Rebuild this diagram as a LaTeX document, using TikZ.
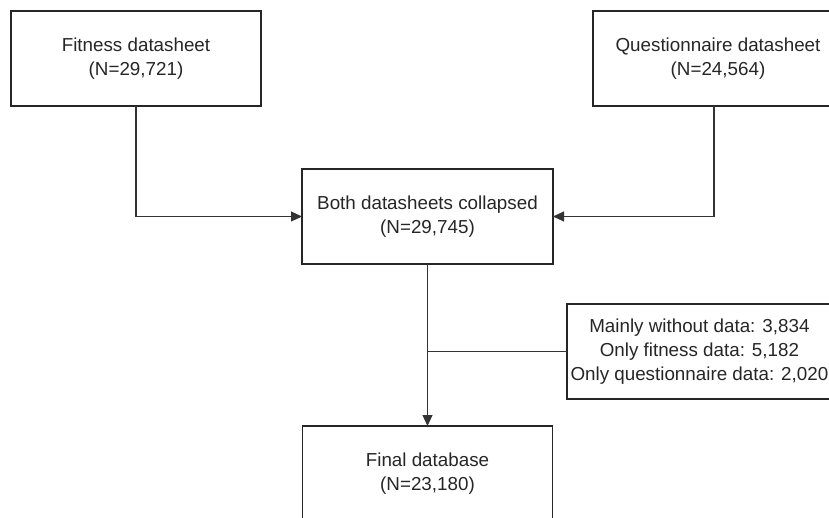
\documentclass[tikz,border=0pt]{standalone}
\usepackage{fontspec}
\setmainfont{Liberation Sans}
\usepackage{tikz}
\usetikzlibrary{arrows.meta, positioning}

\begin{document}
\begin{tikzpicture}[x=1pt,y=1pt,node distance=14pt,
	>={Triangle[length=11pt,width=10pt]},line width=1.1pt,
	font=\fontsize{18.8}{24}\selectfont]

	\tikzset{data box/.style={draw=black!85, text=black!85,
			align=center, outer sep=0pt, inner xsep=3.5pt,
			minimum width=250pt, minimum height=95pt}}
	\tikzset{link/.style={draw=black!80}}

	\useasboundingbox (0,0) rectangle (829,517);

	% sources
	\node[data box] (fit) at (136,458.5) {Fitness datasheet\\(N=29,721)};
	\node[data box, right=332pt of fit] (quest) {Questionnaire datasheet\\(N=24,564)};

	% merge and result
	\node[data box, minimum width=251pt] (both) at (427.5,300.5) {Both datasheets collapsed\\(N=29,745)};
	\node[data box, below=162pt of both] (final) {Final database\\(N=23,180)};
	\node[data box, minimum width=0pt, anchor=west] (excl) at (567,165.5)
		{Mainly without data: 3,834\\Only fitness data: 5,182\\Only questionnaire data: 2,020};

	\coordinate (split) at (both.south |- excl.west);

	\draw[link,->] (fit.south) |- (both.west);
	\draw[link,->] ([xshift=-4pt]quest.south) |- (both.east);
	\draw[link,->] (both.south) -- (final.north);
	\draw[link] (excl.west) -- (split);
\end{tikzpicture}
\end{document}
